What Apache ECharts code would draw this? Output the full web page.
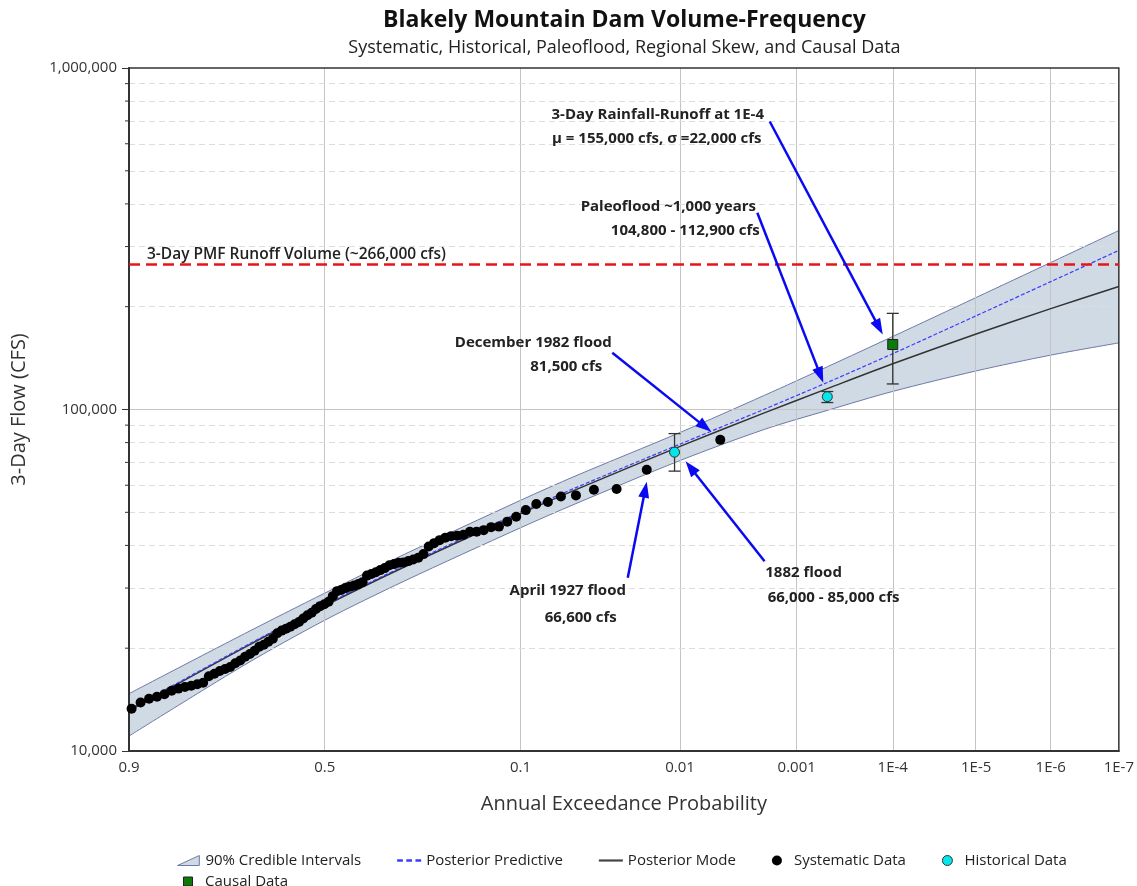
<!DOCTYPE html>
<html>
<head>
<meta charset="utf-8">
<script src="https://cdn.jsdelivr.net/npm/echarts@6/dist/echarts.min.js"></script>
<style>
  html, body { margin: 0; padding: 0; background: #fff; }
  #chart { width: 1137px; height: 886px; }
</style>
</head>
<body>
<div id="chart"></div>
<script>
// x axis: annual exceedance probability on a normal probability scale
const xTickProbs = [0.9, 0.5, 0.1, 0.01, 0.001, 1e-4, 1e-5, 1e-6, 1e-7]
const xTickLabels = ['0.9', '0.5', '0.1', '0.01', '0.001', '1E-4', '1E-5', '1E-6', '1E-7']
const yMajorValues = [100000]
const yMinorValues = [20000, 30000, 40000, 50000, 60000, 70000, 80000, 90000,
  200000, 300000, 400000, 500000, 600000, 700000, 800000, 900000]

// systematic record (plotting position, 3-day flow cfs)
const sysProb = [0.897, 0.886, 0.875, 0.864, 0.853, 0.842, 0.831, 0.820, 0.809, 0.798,
  0.787, 0.776, 0.765, 0.754, 0.743, 0.732, 0.721, 0.710, 0.699, 0.688,
  0.677, 0.666, 0.655, 0.644, 0.633, 0.622, 0.611, 0.600, 0.589, 0.578,
  0.567, 0.556, 0.545, 0.534, 0.523, 0.512, 0.501, 0.490, 0.479, 0.468,
  0.457, 0.446, 0.435, 0.424, 0.413, 0.402, 0.391, 0.380, 0.369, 0.358,
  0.347, 0.336, 0.325, 0.314, 0.303, 0.292, 0.281, 0.270, 0.259, 0.248,
  0.237, 0.226, 0.215, 0.204, 0.193, 0.182, 0.171, 0.160, 0.149, 0.138,
  0.127, 0.116, 0.105, 0.094, 0.083, 0.072, 0.061, 0.050, 0.039, 0.028,
  0.0175, 0.0048]
const sysFlow = [13300, 13860, 14220, 14410, 14660, 15010, 15230, 15390, 15530, 15680,
  15840, 16550, 16840, 17150, 17390, 17620, 18070, 18400, 18880, 19240,
  19660, 20190, 20480, 20880, 21320, 22130, 22520, 22800, 23120, 23510,
  23870, 24430, 24990, 25410, 26060, 26560, 26910, 27370, 28410, 29380,
  29620, 29990, 30290, 30500, 30810, 31220, 32630, 33000, 33370, 33860,
  34320, 34980, 35260, 35570, 35670, 35980, 36390, 36830, 37720, 39720,
  40610, 41440, 42130, 42580, 42720, 42950, 43830, 43890, 44330, 45240,
  45400, 46950, 48500, 50740, 52850, 53570, 55590, 56040, 58210, 58480,
  66600, 81500]

// historical / paleoflood
const histProb = [0.011, 0.0005]
const histFlow = [75000, 109000]
const histLow = [66000, 104800]
const histHigh = [85000, 112900]

// causal (rainfall-runoff)
const causalProb = [0.0001]
const causalFlow = [155000]
const causalLow = [118800]
const causalHigh = [191200]

// fitted curves
const curveProb = [0.9, 0.7, 0.5, 0.3, 0.1, 0.05, 0.01, 0.002, 0.0005, 1e-4, 1e-5, 1e-6, 1e-7]
const ciUpper = [14720, 22070, 28990, 37720, 54200, 63970, 85650, 109990, 133400, 163600, 212800, 269400, 334300]
const ciLower = [11060, 17870, 24150, 31500, 45040, 53020, 70890, 87430, 99400, 112980, 129700, 144300, 156700]
const postMode = [13120, 20120, 26620, 34640, 49520, 58240, 77970, 97750, 115080, 136100, 166400, 197400, 229300]
const postPredictive = [13210, 20250, 26800, 34910, 50090, 59060, 79200, 100200, 120000, 145700, 188100, 236800, 292300]

const pmfFlow = 266000

const FONT = '"Open Sans", "Noto Sans", sans-serif'

// inverse standard normal cdf (Acklam)
function normInv(p) {
  const a = [-3.969683028665376e+01, 2.209460984245205e+02, -2.759285104469687e+02, 1.383577518672690e+02, -3.066479806614716e+01, 2.506628277459239e+00]
  const b = [-5.447609879822406e+01, 1.615858368580409e+02, -1.556989798598866e+02, 6.680131188771972e+01, -1.328068155288572e+01]
  const c = [-7.784894002430293e-03, -3.223964580411365e-01, -2.400758277161838e+00, -2.549671664060800e+00, 4.374664141464968e+00, 2.938163982698783e+00]
  const d = [7.784695709041462e-03, 3.224671290700398e-01, 2.445134137142996e+00, 3.754408661907416e+00]
  const pl = 0.02425
  let q, r
  if (p < pl) {
    q = Math.sqrt(-2 * Math.log(p))
    return (((((c[0] * q + c[1]) * q + c[2]) * q + c[3]) * q + c[4]) * q + c[5]) / ((((d[0] * q + d[1]) * q + d[2]) * q + d[3]) * q + 1)
  }
  if (p > 1 - pl) {
    q = Math.sqrt(-2 * Math.log(1 - p))
    return -(((((c[0] * q + c[1]) * q + c[2]) * q + c[3]) * q + c[4]) * q + c[5]) / ((((d[0] * q + d[1]) * q + d[2]) * q + d[3]) * q + 1)
  }
  q = p - 0.5
  r = q * q
  return (((((a[0] * r + a[1]) * r + a[2]) * r + a[3]) * r + a[4]) * r + a[5]) * q / (((((b[0] * r + b[1]) * r + b[2]) * r + b[3]) * r + b[4]) * r + 1)
}
// exceedance probability -> normal variate
const toZ = p => -normInv(p)

const xTickZ = xTickProbs.map(toZ)
const zMin = xTickZ[0]
const zMax = xTickZ[xTickZ.length - 1]

const xLabel = v => {
  let best = 0
  xTickZ.forEach((z, i) => { if (Math.abs(z - v) < Math.abs(xTickZ[best] - v)) best = i })
  return xTickLabels[best]
}
const fmtNum = v => Math.round(v).toLocaleString('en-US')
const curve = vals => curveProb.map((p, i) => [toZ(p), vals[i]])

const errorBar = (params, api) => {
  const x = api.value(0)
  const top = api.coord([x, api.value(2)])
  const bot = api.coord([x, api.value(1)])
  const w = 6
  const style = { stroke: '#333', lineWidth: 1.3 }
  return {
    type: 'group',
    children: [
      { type: 'line', shape: { x1: top[0], y1: top[1], x2: bot[0], y2: bot[1] }, style },
      { type: 'line', shape: { x1: top[0] - w, y1: top[1], x2: top[0] + w, y2: top[1] }, style },
      { type: 'line', shape: { x1: bot[0] - w, y1: bot[1], x2: bot[0] + w, y2: bot[1] }, style }
    ]
  }
}

const BAND_EDGE = '#6e7aa8'
const BAND_FILL = '#d0dae4'
const ARROW = '#0a0af2'
const TEXT = '#222'
const SMOOTH = 0.3

// annotation layout: offsets in px from the target point
const notes = [
  { p: causalProb[0], q: causalFlow[0], tip: [-10, -10], tail: [-123, -223],
    text: [['3-Day Rainfall-Runoff at 1E-4', -235, -230], ['μ = 155,000 cfs, σ =22,000 cfs', -236, -206]] },
  { p: histProb[1], q: histFlow[1], tip: [-4, -14], tail: [-70, -184],
    text: [['Paleoflood ~1,000 years', -159, -190], ['104,800 - 112,900 cfs', -142, -166]] },
  { p: sysProb[sysProb.length - 1], q: sysFlow[sysFlow.length - 1], tip: [-9, -8], tail: [-108, -87],
    text: [['December 1982 flood', -187, -97], ['81,500 cfs', -154, -73]] },
  { p: sysProb[sysProb.length - 2], q: sysFlow[sysFlow.length - 2], tip: [0, 12], tail: [-19, 108],
    text: [['April 1927 flood', -79, 121], ['66,600 cfs', -66, 148]] },
  { p: histProb[0], q: histFlow[0], tip: [11, 9], tail: [90, 109],
    text: [['1882 flood', 129, 121], ['66,000 - 85,000 cfs', 159, 146]] }
]

const chart = echarts.init(document.getElementById('chart'))

const legendText = { fontSize: 15, color: TEXT, fontFamily: FONT }

const option = {
  animation: false,
  textStyle: { fontFamily: FONT },
  grid: {
    left: 129, right: 17, top: 68, bottom: 135, z: 5,
    show: true, borderColor: '#333', borderWidth: 1.5, backgroundColor: 'transparent'
  },
  legend: [
    {
      left: 172, top: 848, itemGap: 36, itemWidth: 24, itemHeight: 10,
      textStyle: legendText,
      data: [
        { name: '90% Credible Intervals', icon: 'path://M0,12 L24,1 L24,12 Z', itemStyle: { color: BAND_FILL, borderColor: BAND_EDGE, borderWidth: 1 } },
        { name: 'Posterior Predictive', icon: 'path://M0,0h5v2h-5z M8,0h5v2h-5z M16,0h5v2h-5z', itemStyle: { color: '#3c3cff' } },
        { name: 'Posterior Mode', icon: 'path://M0,0h22v2h-22z', itemStyle: { color: '#444' } },
        { name: 'Systematic Data', icon: 'circle', itemStyle: { color: '#000' } },
        { name: 'Historical Data', icon: 'circle', itemStyle: { color: '#00e6ea', borderColor: '#333', borderWidth: 1 } }
      ]
    },
    {
      left: 178, top: 869, itemWidth: 24, itemHeight: 9,
      textStyle: legendText,
      data: [{ name: 'Causal Data', icon: 'path://M0,0h10v10h-10z', itemStyle: { color: '#0a7a0a', borderColor: '#222', borderWidth: 1 } }]
    }
  ],
  xAxis: {
    type: 'value', min: zMin, max: zMax, z: 6,
    name: 'Annual Exceedance Probability', nameLocation: 'middle', nameGap: 43,
    nameTextStyle: { fontSize: 20, color: '#333', fontFamily: FONT },
    axisLine: { show: true, onZero: false, lineStyle: { color: '#333', width: 2 } },
    axisTick: { show: false },
    splitLine: { show: false },
    axisLabel: {
      customValues: xTickZ, formatter: xLabel, fontSize: 15, color: '#333', margin: 9,
      showMinLabel: true, showMaxLabel: true, fontFamily: FONT
    }
  },
  yAxis: {
    type: 'log', logBase: 10, min: 10000, max: 1000000, z: 6,
    name: '3-Day Flow (CFS)', nameLocation: 'middle', nameGap: 100,
    nameTextStyle: { fontSize: 20, color: '#333', fontFamily: FONT },
    axisLine: { show: true, onZero: false, lineStyle: { color: '#333', width: 2 } },
    axisTick: { show: true, length: 7, lineStyle: { color: '#333' } },
    axisLabel: { formatter: fmtNum, fontSize: 15, color: '#333', margin: 12, fontFamily: FONT },
    splitLine: { show: false }
  },
  series: [
    {
      // band: upper fill to bottom, then white fill under the lower bound
      name: '90% Credible Intervals', type: 'line', smooth: SMOOTH, symbol: 'none', silent: true, z: 1,
      lineStyle: { color: BAND_EDGE, width: 1 },
      itemStyle: { color: BAND_FILL },
      areaStyle: { color: BAND_FILL, opacity: 1, origin: 'start' },
      data: curve(ciUpper)
    },
    {
      name: 'ciLower', type: 'line', smooth: SMOOTH, symbol: 'none', silent: true, z: 2,
      lineStyle: { color: BAND_EDGE, width: 1 },
      areaStyle: { color: '#fff', opacity: 1, origin: 'start' },
      data: curve(ciLower)
    },
    {
      // grid lines drawn over the band
      name: 'grid', type: 'line', data: [], silent: true, z: 3,
      markLine: {
        silent: true, symbol: 'none', z: 3, animation: false,
        label: { show: false },
        data: [
          ...xTickZ.slice(1, -1).map(z => ({ xAxis: z, lineStyle: { color: '#c4c4c4', type: 'solid', width: 1 } })),
          ...yMajorValues.map(v => ({ yAxis: v, lineStyle: { color: '#c4c4c4', type: 'solid', width: 1 } })),
          ...yMinorValues.map(v => ({ yAxis: v, lineStyle: { color: '#dddddd', type: [6, 4], width: 1 } }))
        ]
      }
    },
    {
      name: 'minorTicks', type: 'custom', silent: true, z: 3,
      data: yMinorValues.map(v => [zMin, v]),
      renderItem: (params, api) => {
        const pt = api.coord([api.value(0), api.value(1)])
        return { type: 'line', shape: { x1: pt[0] - 4, y1: pt[1], x2: pt[0], y2: pt[1] }, style: { stroke: '#333', lineWidth: 1 } }
      }
    },
    {
      name: 'Posterior Mode', type: 'line', smooth: SMOOTH, symbol: 'none', z: 6,
      lineStyle: { color: '#333', width: 1.5 },
      itemStyle: { color: '#333' },
      data: curve(postMode)
    },
    {
      name: 'Posterior Predictive', type: 'line', smooth: SMOOTH, symbol: 'none', z: 7,
      lineStyle: { color: '#3c3cff', width: 1.2, type: [4, 2] },
      itemStyle: { color: '#3c3cff' },
      data: curve(postPredictive)
    },
    {
      name: 'pmf', type: 'line', symbol: 'none', silent: true, z: 8,
      lineStyle: { color: '#e8141a', width: 2.5, type: [11, 6] },
      data: [[zMin, pmfFlow], [zMax, pmfFlow]]
    },
    {
      name: 'errorBars', type: 'custom', silent: true, z: 9,
      encode: { x: 0, y: [1, 2] },
      data: [
        ...histProb.map((p, i) => [toZ(p), histLow[i], histHigh[i]]),
        ...causalProb.map((p, i) => [toZ(p), causalLow[i], causalHigh[i]])
      ],
      renderItem: errorBar
    },
    {
      name: 'Systematic Data', type: 'scatter', symbol: 'circle', symbolSize: 10, z: 10,
      itemStyle: { color: '#000', opacity: 1 },
      data: sysProb.map((p, i) => [toZ(p), sysFlow[i]])
    },
    {
      name: 'Historical Data', type: 'scatter', symbol: 'circle', symbolSize: 10, z: 11,
      itemStyle: { color: '#00e6ea', borderColor: '#333', borderWidth: 1, opacity: 1 },
      data: histProb.map((p, i) => [toZ(p), histFlow[i]])
    },
    {
      name: 'Causal Data', type: 'scatter', symbol: 'rect', symbolSize: 10, z: 11,
      itemStyle: { color: '#0a7a0a', borderColor: '#222', borderWidth: 1, opacity: 1 },
      data: causalProb.map((p, i) => [toZ(p), causalFlow[i]])
    }
  ]
}

chart.setOption(option)

const drawGraphics = () => {
  const gl = 129
  const gr = 1137 - 17
  const cx = (gl + gr) / 2
  const els = [
    { type: 'text', x: cx, y: 20, z: 50, style: { text: 'Blakely Mountain Dam Volume-Frequency', font: 'bold 23px ' + FONT, fill: '#111', align: 'center', verticalAlign: 'middle' } },
    { type: 'text', x: cx, y: 48, z: 50, style: { text: 'Systematic, Historical, Paleoflood, Regional Skew, and Causal Data', font: '18px ' + FONT, fill: TEXT, align: 'center', verticalAlign: 'middle' } }
  ]
  const pmfPt = chart.convertToPixel({ gridIndex: 0 }, [zMin, pmfFlow])
  els.push({ type: 'text', x: pmfPt[0] + 18, y: pmfPt[1] - 10, z: 50, style: { text: '3-Day PMF Runoff Volume (~266,000 cfs)', font: '600 15.5px ' + FONT, fill: TEXT, align: 'left', verticalAlign: 'middle' } })

  notes.forEach(n => {
    const t = chart.convertToPixel({ gridIndex: 0 }, [toZ(n.p), n.q])
    const tip = [t[0] + n.tip[0], t[1] + n.tip[1]]
    const tail = [t[0] + n.tail[0], t[1] + n.tail[1]]
    const dx = tip[0] - tail[0]
    const dy = tip[1] - tail[1]
    const len = Math.hypot(dx, dy)
    const ux = dx / len
    const uy = dy / len
    const hl = 16
    const hw = 5.5
    const base = [tip[0] - ux * hl, tip[1] - uy * hl]
    els.push({ type: 'line', z: 50, shape: { x1: tail[0], y1: tail[1], x2: base[0] + ux * 2, y2: base[1] + uy * 2 }, style: { stroke: ARROW, lineWidth: 2.5 } })
    els.push({ type: 'polygon', z: 50, shape: { points: [tip, [base[0] - uy * hw, base[1] + ux * hw], [base[0] + uy * hw, base[1] - ux * hw]] }, style: { fill: ARROW } })
    n.text.forEach(([s, ox, oy]) => {
      els.push({ type: 'text', z: 50, x: t[0] + ox, y: t[1] + oy, style: { text: s, font: 'bold 15px ' + FONT, fill: TEXT, align: 'center', verticalAlign: 'middle' } })
    })
  })
  chart.setOption({ graphic: els })
}

drawGraphics()
</script>
</body>
</html>
